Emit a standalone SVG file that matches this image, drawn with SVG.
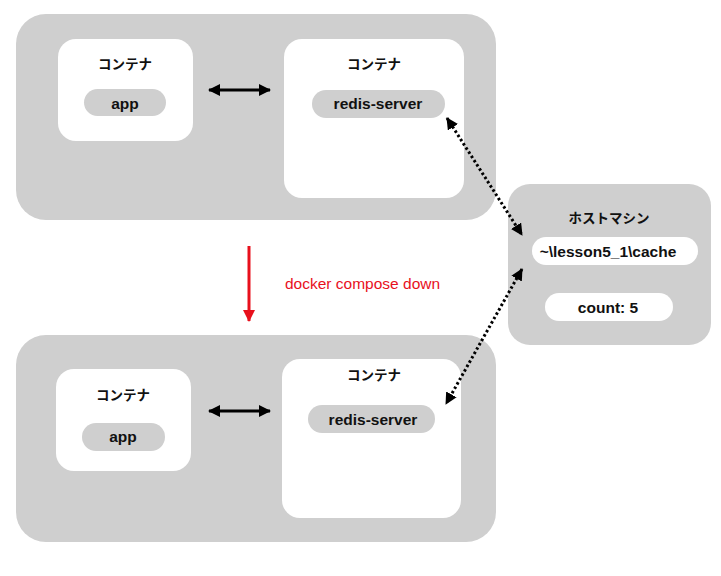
<svg xmlns="http://www.w3.org/2000/svg" width="721" height="576" viewBox="0 0 721 576">
<style>
.outer{fill:#cfcfcf}
.box{fill:#ffffff}
.pill{fill:#cfcfcf}
.wpill{fill:#ffffff}
.t{font-family:"Liberation Sans",Arial,sans-serif;font-weight:bold;font-size:15.5px;fill:#111;text-anchor:middle;dominant-baseline:central}
.jp{font-family:"Noto Sans CJK JP",sans-serif;font-weight:bold;font-size:13.5px;fill:#111;text-anchor:middle;dominant-baseline:central}
.red{font-family:"Liberation Sans",Arial,sans-serif;font-size:15.5px;fill:#e8101c;dominant-baseline:central}
.solid{stroke:#000;stroke-width:3;fill:none}
.dot{stroke:#000;stroke-width:3;stroke-dasharray:2.5 2.5;fill:none}
.redl{stroke:#e8101c;stroke-width:3;fill:none}
</style>
<defs>
<marker id="ah" markerUnits="userSpaceOnUse" viewBox="0 0 12 12" refX="11" refY="6" markerWidth="12" markerHeight="12" orient="auto-start-reverse">
<path d="M0,0 L12,6 L0,12 Z" fill="#000"/>
</marker>
<marker id="ahr" markerUnits="userSpaceOnUse" viewBox="0 0 12 12" refX="11" refY="6" markerWidth="12" markerHeight="12" orient="auto">
<path d="M0,0 L12,6 L0,12 Z" fill="#e8101c"/>
</marker>
</defs>

<g id="top-env">
<rect class="outer" x="16" y="14" width="480" height="206" rx="30"/>
</g>
<g id="top-app-container">
<rect class="box" x="58" y="39" width="135" height="102" rx="18"/>
<text class="jp" x="125" y="63">コンテナ</text>
<rect class="pill" x="84" y="89" width="82" height="27" rx="13.5"/>
<text class="t" x="125" y="103">app</text>
</g>
<g id="top-redis-container">
<rect class="box" x="284" y="39" width="180" height="159" rx="18"/>
<text class="jp" x="374" y="63">コンテナ</text>
<rect class="pill" x="312" y="90" width="133" height="28" rx="14"/>
<text class="t" x="378" y="103">redis-server</text>
</g>

<g id="bottom-env">
<rect class="outer" x="16" y="335" width="480" height="207" rx="30"/>
</g>
<g id="bottom-app-container">
<rect class="box" x="56" y="369" width="135" height="102" rx="18"/>
<text class="jp" x="123" y="394">コンテナ</text>
<rect class="pill" x="82" y="423" width="83" height="28" rx="14"/>
<text class="t" x="123" y="436">app</text>
</g>
<g id="bottom-redis-container">
<rect class="box" x="282" y="359" width="179" height="159" rx="18"/>
<text class="jp" x="374" y="374">コンテナ</text>
<rect class="pill" x="308" y="405" width="127" height="28" rx="14"/>
<text class="t" x="373" y="419">redis-server</text>
</g>

<g id="host">
<rect class="outer" x="508" y="184" width="203" height="161" rx="22"/>
<text class="jp" x="609" y="217">ホストマシン</text>
<rect class="wpill" x="532" y="237" width="166" height="28" rx="14"/>
<text class="t" x="608" y="251">~\lesson5_1\cache</text>
<rect class="wpill" x="545" y="293" width="128" height="28" rx="14"/>
<text class="t" x="608" y="307">count: 5</text>
</g>

<g id="connectors">
<line class="solid" x1="209" y1="90" x2="270" y2="90" marker-start="url(#ah)" marker-end="url(#ah)"/>
<line class="solid" x1="209" y1="411" x2="270" y2="411" marker-start="url(#ah)" marker-end="url(#ah)"/>
<line class="dot" x1="447" y1="118" x2="522" y2="235" marker-start="url(#ah)" marker-end="url(#ah)"/>
<line class="dot" x1="522" y1="269" x2="446" y2="404" marker-start="url(#ah)" marker-end="url(#ah)"/>
<line class="redl" x1="249" y1="246" x2="249" y2="321" marker-end="url(#ahr)"/>
<text class="red" x="285" y="283">docker compose down</text>
</g>
</svg>
